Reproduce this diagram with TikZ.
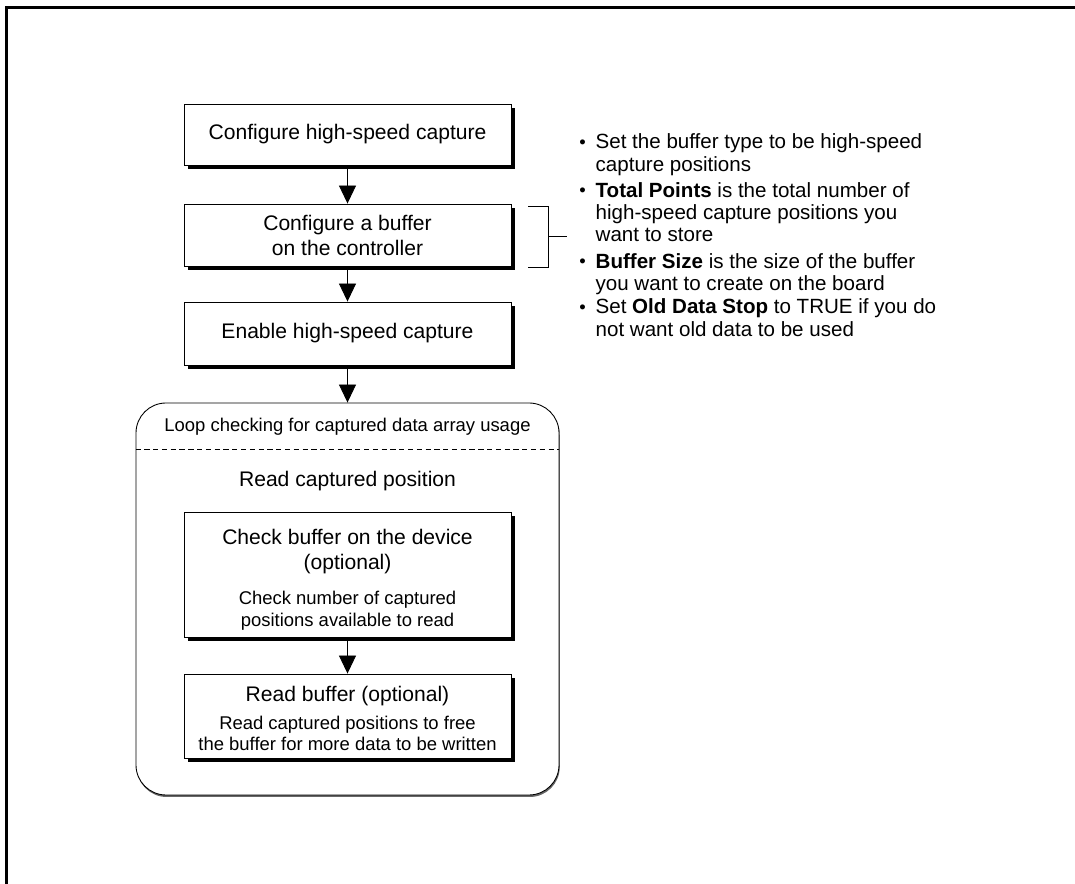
\documentclass[tikz,border=0pt]{standalone}
\usepackage{fontspec}
\setmainfont{Liberation Sans}
\usetikzlibrary{arrows.meta,shadows,positioning,calc}

\newcommand{\subfont}{\fontsize{10.5}{12.5}\selectfont}
\newcommand{\notebullet}{\raisebox{0.05ex}{\fontsize{10.5}{10.5}\selectfont\textbullet}}

\begin{document}
\begin{tikzpicture}[>={Triangle[width=0.34cm,length=0.36cm]},
    flowbox/.style={draw,line width=0.5pt,fill=white,minimum width=6.54cm,
        inner sep=0pt,align=center,font=\fontsize{12}{14.2}\selectfont,
        drop shadow={shadow xshift=0.08cm,shadow yshift=-0.08cm,fill=black,opacity=1}},
    flow/.style={->,line width=0.5pt}]
    \useasboundingbox (0,0) rectangle (21.5,-17.68);

    % frame
    \draw[line width=1.4pt] (0.13,-17.68) -- (0.13,-0.15) -- (21.5,-0.15);

    % setup steps
    \node[flowbox,minimum height=1.22cm] (config) at (6.95,-2.69) {Configure high-speed capture};
    \node[flowbox,minimum height=1.24cm] (buffer) at (6.95,-4.70) {Configure a buffer\\on the controller};
    \node[flowbox,minimum height=1.26cm] (enable) at (6.95,-6.67) {Enable high-speed capture};

    % loop
    \node[draw,line width=0.5pt,fill=white,rounded corners=0.6cm,minimum width=8.46cm,
          minimum height=7.84cm,
          drop shadow={shadow xshift=0.015cm,shadow yshift=-0.04cm,fill=black!60,opacity=1}]
          (loop) at (6.95,-11.98) {};
    \node[font=\fontsize{10.5}{12}\selectfont] (looptitle) at (6.95,-8.53)
        {Loop checking for captured data array usage};
    \draw[line width=0.5pt,dash pattern=on 3pt off 2pt]
        (loop.west |- 0,-8.98) -- (loop.east |- 0,-8.98);
    \node[font=\fontsize{12}{14}\selectfont] (readpos) at (6.95,-9.63) {Read captured position};
    \node[flowbox,minimum height=2.5cm] (check) at (6.95,-11.49)
        {\rule{0pt}{14.4pt}Check buffer on the device\\(optional)\\[5.6pt]
         {\subfont Check number of captured}\\[-1.7pt]
         {\subfont positions available to read}};
    \node[flowbox,minimum height=1.68cm] (readbuf) at (6.95,-14.32)
        {\rule{0pt}{11pt}Read buffer (optional)\\[1.7pt]
         {\subfont Read captured positions to free}\\[-2.3pt]
         {\subfont the buffer for more data to be written}};

    \draw[flow] (config) -- (buffer);
    \draw[flow] (buffer) -- (enable);
    \draw[flow] (enable) -- (loop);
    \draw[flow] (check) -- (readbuf);

    % bracket and notes
    \draw[line width=0.5pt] (10.56,-4.12) -- (10.96,-4.12) -- (10.96,-5.34) -- (10.56,-5.34);
    \draw[line width=0.5pt] (10.96,-4.72) -- (11.34,-4.72);
    \node[anchor=north west,inner sep=0pt,font=\fontsize{11.7}{12.7}\selectfont] (notes) at (11.58,-2.66)
        {\begin{tabular}{@{}l@{\hspace{5.6pt}}l@{}}
         \notebullet & Set the buffer type to be high-speed\\
                     & capture positions\\[2pt]
         \notebullet & \textbf{Total Points} is the total number of\\
                     & high-speed capture positions you\\
                     & want to store\\[2.5pt]
         \notebullet & \textbf{Buffer Size} is the size of the buffer\\
                     & you want to create on the board\\[0.4pt]
         \notebullet & Set \textbf{Old Data Stop} to TRUE if you do\\
                     & not want old data to be used
         \end{tabular}};
\end{tikzpicture}
\end{document}
